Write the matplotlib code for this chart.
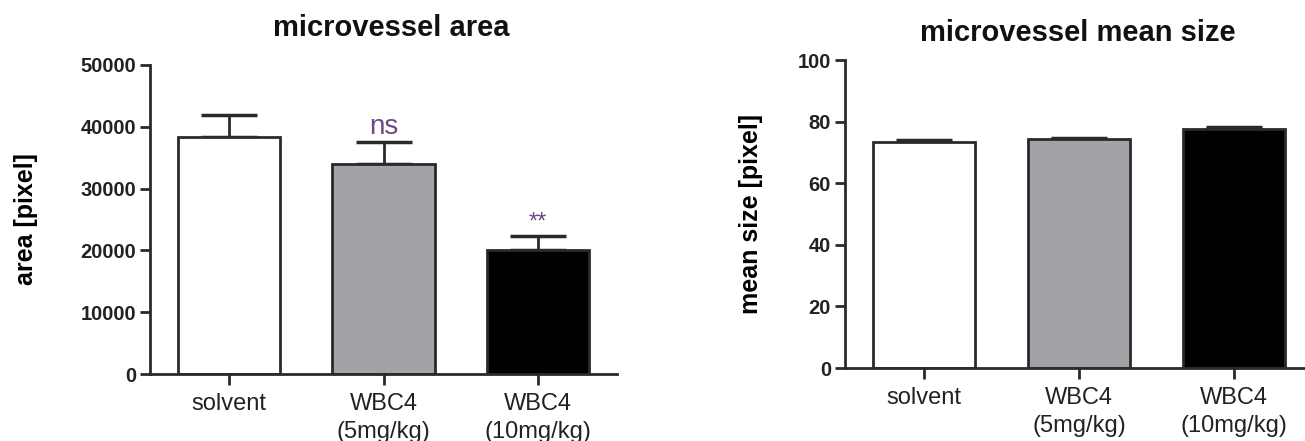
import matplotlib
matplotlib.use("Agg")
import matplotlib.pyplot as plt

plt.rcParams['font.family'] = ['Liberation Sans', 'DejaVu Sans']

categories = ["solvent", "WBC4\n(5mg/kg)", "WBC4\n(10mg/kg)"]
area_mean = [38300, 33900, 20000]
area_err = [3600, 3700, 2300]
area_sig = ["", "ns", "**"]
size_mean = [73.5, 74.2, 77.6]
size_err = [0.5, 0.5, 0.5]
colors = ["white", "#a3a3a7", "black"]

W, H = 1305, 441
fig = plt.figure(figsize=(W / 100, H / 100), dpi=100)

def px_axes(x0, x1, ytop, ybot):
    return fig.add_axes([x0 / W, (H - ybot) / H, (x1 - x0) / W, (ybot - ytop) / H])

ax1 = px_axes(150, 617, 65, 374)
ax2 = px_axes(845, 1313, 60, 368)

def draw(ax, means, errs, ylim, yticks, ylabel, label_x):
    x = list(range(len(means)))
    ax.bar(x, means, width=0.66, color=colors, edgecolor="#2a2a2a", linewidth=2.0, zorder=2)
    ax.errorbar(x, means, yerr=[[0] * len(errs), errs], fmt="none", ecolor="#2a2a2a",
                elinewidth=2.0, capsize=20, capthick=2.5, zorder=1)
    ax.set_xlim(-0.51, 2.51)
    ax.set_ylim(*ylim)
    ax.set_yticks(yticks)
    ax.set_xticks(x)
    ax.set_xticklabels(categories, fontsize=17, color="#222222", linespacing=1.3)
    for lab in ax.get_yticklabels():
        lab.set_fontweight("bold")
        lab.set_fontsize(14.5)
        lab.set_color("#222222")
    for s in ["top", "right"]:
        ax.spines[s].set_visible(False)
    for s in ["left", "bottom"]:
        ax.spines[s].set_linewidth(2.0)
        ax.spines[s].set_color("#2a2a2a")
    ax.tick_params(axis="y", length=7, width=2, color="#2a2a2a", pad=3)
    ax.tick_params(axis="x", length=8, width=2, color="#2a2a2a", pad=6)
    ax.set_ylabel(ylabel, fontsize=18, fontweight="bold")
    ax.yaxis.set_label_coords(label_x, 0.5)
    ax.set_facecolor("none")

draw(ax1, area_mean, area_err, (0, 50000), [0, 10000, 20000, 30000, 40000, 50000],
     "area [pixel]", (38 - 150) / 467)
draw(ax2, size_mean, size_err, (0, 100), [0, 20, 40, 60, 80, 100],
     "mean size [pixel]", (763 - 845) / 468)

fig.text(391 / W, 1 - 28 / H, "microvessel area", ha="center", va="center",
         fontsize=21, fontweight="bold", color="#111111")
fig.text(1078 / W, 1 - 33 / H, "microvessel mean size", ha="center", va="center",
         fontsize=21, fontweight="bold", color="#111111")

for i, (m, e, s) in enumerate(zip(area_mean, area_err, area_sig)):
    if s:
        fs = 20 if s == "ns" else 17
        off = 200 if s == "ns" else 400
        ax1.text(i, m + e + off, s, ha="center", va="bottom", fontsize=fs, color="#6a4a86")

fig.savefig("out.png", dpi=100)
